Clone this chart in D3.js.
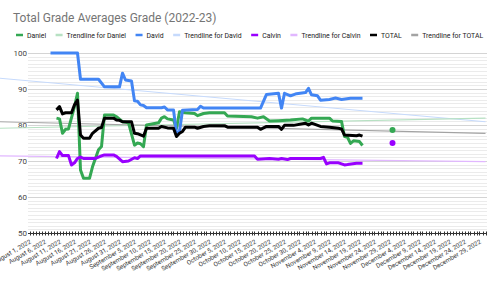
<!DOCTYPE html>
<html>
<head>
<meta charset="utf-8">
<script src="https://cdn.jsdelivr.net/npm/d3@7"></script>
<style>
    body { margin: 0; background: #fff; }
    text { font-family: Roboto, "Noto Sans", sans-serif; }
</style>
</head>
<body>
<div id="chart"></div>
<script>
// grades: [date, average]
var daniel = [
    ["2022-08-10", 81.9], ["2022-08-11", 81.7], ["2022-08-12", 77.7], ["2022-08-13", 78.8],
    ["2022-08-14", 78.9], ["2022-08-16", 85.1], ["2022-08-17", 88.8], ["2022-08-18", 67.5],
    ["2022-08-19", 65.2], ["2022-08-21", 65.2], ["2022-08-22", 68.4], ["2022-08-24", 73.1],
    ["2022-08-25", 74.0], ["2022-08-26", 82.8], ["2022-08-29", 82.8], ["2022-08-30", 82.3],
    ["2022-09-01", 80.9], ["2022-09-03", 80.6], ["2022-09-05", 74.4], ["2022-09-06", 75.0],
    ["2022-09-07", 74.8], ["2022-09-08", 74.0], ["2022-09-09", 80.0], ["2022-09-13", 80.6],
    ["2022-09-14", 81.9], ["2022-09-15", 82.3], ["2022-09-16", 81.7], ["2022-09-18", 81.4],
    ["2022-09-19", 79.1], ["2022-09-20", 83.7], ["2022-09-22", 83.4], ["2022-09-25", 83.2],
    ["2022-09-26", 82.6], ["2022-09-28", 83.2], ["2022-09-30", 83.4], ["2022-10-05", 83.4],
    ["2022-10-06", 82.5], ["2022-10-14", 82.3], ["2022-10-16", 81.9], ["2022-10-18", 82.3],
    ["2022-10-20", 81.1], ["2022-10-23", 81.2], ["2022-10-27", 81.4], ["2022-10-31", 81.7],
    ["2022-11-02", 81.1], ["2022-11-03", 81.9], ["2022-11-09", 81.9], ["2022-11-10", 81.1],
    ["2022-11-13", 81.0], ["2022-11-14", 76.8], ["2022-11-15", 76.6], ["2022-11-16", 74.9],
    ["2022-11-17", 75.6], ["2022-11-19", 75.4], ["2022-11-20", 74.3]
];
var david = [
    ["2022-08-08", 100], ["2022-08-17", 100], ["2022-08-18", 92.7], ["2022-08-24", 92.7],
    ["2022-08-26", 90.6], ["2022-08-31", 90.6], ["2022-09-01", 94.4], ["2022-09-02", 92.5],
    ["2022-09-04", 92.2], ["2022-09-05", 86.7], ["2022-09-06", 86.6], ["2022-09-07", 85.6],
    ["2022-09-08", 85.4], ["2022-09-09", 84.8], ["2022-09-14", 84.8], ["2022-09-15", 85.0],
    ["2022-09-16", 84.2], ["2022-09-18", 84.2], ["2022-09-19", 77.7], ["2022-09-20", 78.2],
    ["2022-09-21", 84.1], ["2022-09-26", 84.3], ["2022-09-27", 85.2], ["2022-09-28", 84.7],
    ["2022-10-17", 84.7], ["2022-10-19", 88.5], ["2022-10-23", 88.8], ["2022-10-24", 84.7],
    ["2022-10-25", 88.8], ["2022-10-27", 88.1], ["2022-10-29", 88.7], ["2022-11-01", 89.0],
    ["2022-11-02", 90.2], ["2022-11-03", 88.4], ["2022-11-05", 88.1], ["2022-11-06", 86.9],
    ["2022-11-09", 87.1], ["2022-11-11", 87.5], ["2022-11-13", 87.1], ["2022-11-16", 87.4],
    ["2022-11-20", 87.4]
];
var calvin = [
    ["2022-08-10", 70.7], ["2022-08-11", 72.6], ["2022-08-12", 71.5], ["2022-08-14", 71.5],
    ["2022-08-15", 68.9], ["2022-08-16", 69.5], ["2022-08-17", 70.7], ["2022-08-18", 71.1],
    ["2022-08-19", 70.7], ["2022-08-23", 70.7], ["2022-08-25", 71.4], ["2022-08-26", 71.7],
    ["2022-08-29", 71.7], ["2022-08-30", 71.3], ["2022-09-01", 69.8], ["2022-09-03", 70.0],
    ["2022-09-05", 70.9], ["2022-09-06", 70.7], ["2022-09-07", 71.4], ["2022-10-15", 71.4],
    ["2022-10-16", 70.5], ["2022-10-20", 70.7], ["2022-10-23", 70.5], ["2022-10-24", 70.7],
    ["2022-10-26", 70.4], ["2022-10-27", 70.7], ["2022-11-06", 70.7], ["2022-11-07", 71.0],
    ["2022-11-08", 69.2], ["2022-11-09", 69.5], ["2022-11-12", 69.5], ["2022-11-14", 68.9],
    ["2022-11-15", 69.0], ["2022-11-18", 69.4], ["2022-11-20", 69.4]
];
var total = [
    ["2022-08-10", 84.2], ["2022-08-11", 85.1], ["2022-08-12", 83.1], ["2022-08-13", 83.4],
    ["2022-08-15", 83.4], ["2022-08-16", 85.6], ["2022-08-17", 86.9], ["2022-08-18", 77.2],
    ["2022-08-19", 76.3], ["2022-08-21", 76.3], ["2022-08-22", 77.7], ["2022-08-24", 79.1],
    ["2022-08-25", 79.3], ["2022-08-26", 81.9], ["2022-08-29", 81.9], ["2022-08-30", 81.4],
    ["2022-08-31", 81.3], ["2022-09-01", 80.9], ["2022-09-04", 80.9], ["2022-09-05", 77.7],
    ["2022-09-06", 77.6], ["2022-09-08", 76.9], ["2022-09-09", 79.1], ["2022-09-13", 79.1],
    ["2022-09-14", 79.6], ["2022-09-16", 79.2], ["2022-09-18", 79.1], ["2022-09-19", 76.8],
    ["2022-09-20", 77.7], ["2022-09-21", 78.2], ["2022-09-22", 79.4], ["2022-09-25", 79.4],
    ["2022-09-26", 79.1], ["2022-09-28", 79.6], ["2022-09-30", 79.8], ["2022-10-05", 79.8],
    ["2022-10-06", 79.4], ["2022-10-16", 79.4], ["2022-10-17", 78.8], ["2022-10-19", 79.6],
    ["2022-10-23", 79.6], ["2022-10-24", 78.8], ["2022-10-25", 79.9], ["2022-10-28", 79.9],
    ["2022-11-01", 80.5], ["2022-11-02", 80.0], ["2022-11-03", 80.5], ["2022-11-06", 79.6],
    ["2022-11-09", 79.4], ["2022-11-12", 79.1], ["2022-11-13", 78.9], ["2022-11-14", 77.2],
    ["2022-11-18", 77.0], ["2022-11-19", 77.2], ["2022-11-20", 76.9]
];

// lone points after the gap
var danielLate = [["2022-11-30", 78.6]];
var calvinLate = [["2022-11-30", 75.0]];

// trendline ends, as drawn (they run past the left edge)
var trendDates = ["2022-07-22", "2022-12-31"];
var trendDaniel = [79.1, 81.9];
var trendDavid = [93.0, 80.9];
var trendCalvin = [71.4, 69.8];
var trendTotal = [80.9, 77.7];

var yTicks = [50, 60, 70, 80, 90, 100];
var legendNames = ["Daniel", "Trendline for Daniel", "David", "Trendline for David",
    "Calvin", "Trendline for Calvin", "TOTAL", "Trendline for TOTAL"];

var colors = {
    daniel: "#34a853", danielTrend: "#b7e1c3",
    david: "#4285f4", davidTrend: "#c6dafc",
    calvin: "#9900ff", calvinTrend: "#e1b7ff",
    total: "#000000", totalTrend: "#a3a3a3"
};

var width = 500, height = 285;
var plot = { left: 28, right: 487, top: 53, bottom: 233 };

var parseDate = d3.timeParse("%Y-%m-%d");
var fmt = d3.timeFormat("%B %-d, %Y");

// one slot per day, points in the middle of the slot
var x = d3.scaleTime()
    .domain([parseDate("2022-08-01"), parseDate("2022-12-31")])
    .range([plot.left + 1.5, plot.right - 1.5]);
var y = d3.scaleLinear().domain([50, 100]).range([plot.bottom, plot.top]);

var svg = d3.select("#chart").append("svg")
    .attr("width", width)
    .attr("height", height);

// title
svg.append("text")
    .attr("x", 13).attr("y", 22)
    .attr("font-size", 12)
    .attr("fill", "#757575")
    .text("Total Grade Averages Grade (2022-23)");

// gridlines, minor every 1 and major every 10
var minor = d3.range(51, 100).filter(function (v) { return v % 10 !== 0; });
svg.append("g").selectAll("line").data(minor).join("line")
    .attr("x1", plot.left).attr("x2", plot.right)
    .attr("y1", function (d) { return Math.round(y(d)) + 0.5; })
    .attr("y2", function (d) { return Math.round(y(d)) + 0.5; })
    .attr("stroke", "#ebebeb").attr("stroke-width", 1);
svg.append("g").selectAll("line").data(yTicks.slice(1)).join("line")
    .attr("x1", plot.left).attr("x2", plot.right)
    .attr("y1", function (d) { return Math.round(y(d)) + 0.5; })
    .attr("y2", function (d) { return Math.round(y(d)) + 0.5; })
    .attr("stroke", "#d4d4d4").attr("stroke-width", 1);

// y labels
svg.append("g").selectAll("text").data(yTicks).join("text")
    .attr("x", 27)
    .attr("y", function (d) { return y(d); })
    .attr("dy", "0.35em")
    .attr("text-anchor", "end")
    .attr("font-size", 8)
    .attr("fill", "#444")
    .text(function (d) { return d; });

// x axis: a tick every day, a label every 5 days
var days = d3.timeDay.range(x.domain()[0], d3.timeDay.offset(x.domain()[1], 1));
var xAxis = svg.append("g").attr("transform", "translate(0," + (plot.bottom + 0.5) + ")");
xAxis.append("line")
    .attr("x1", plot.left).attr("x2", plot.right)
    .attr("stroke", "#333");
xAxis.selectAll("line.tick").data(days).join("line")
    .attr("class", "tick")
    .attr("x1", function (d) { return Math.round(x(d)) + 0.5; })
    .attr("x2", function (d) { return Math.round(x(d)) + 0.5; })
    .attr("y1", -2).attr("y2", 2)
    .attr("stroke", "#333");

var labelDays = d3.timeDay.range(x.domain()[0], x.domain()[1], 5);
svg.append("g").selectAll("text").data(labelDays).join("text")
    .attr("transform", function (d) {
        return "translate(" + (x(d) + 2) + "," + (plot.bottom + 10) + ") rotate(-30)";
    })
    .attr("text-anchor", "end")
    .attr("font-size", 6.3)
    .attr("fill", "#333")
    .text(function (d) { return fmt(d); });

// trendlines
var line = d3.line()
    .x(function (d) { return x(parseDate(d[0])); })
    .y(function (d) { return y(d[1]); });

function trend(vals) {
    return trendDates.map(function (d, i) { return [d, vals[i]]; });
}
[[trendDavid, colors.davidTrend], [trendDaniel, colors.danielTrend],
 [trendTotal, colors.totalTrend], [trendCalvin, colors.calvinTrend]].forEach(function (t) {
    svg.append("path")
        .datum(trend(t[0]))
        .attr("d", line)
        .attr("fill", "none")
        .attr("stroke", t[1])
        .attr("stroke-width", 1.2);
});

// series lines
[[daniel, colors.daniel], [david, colors.david], [calvin, colors.calvin], [total, colors.total]]
    .forEach(function (s) {
        svg.append("path")
            .datum(s[0])
            .attr("d", line)
            .attr("fill", "none")
            .attr("stroke", s[1])
            .attr("stroke-width", 3)
            .attr("stroke-linejoin", "round");
    });

// isolated points
[[danielLate, colors.daniel], [calvinLate, colors.calvin]].forEach(function (s) {
    svg.append("g").selectAll("circle").data(s[0]).join("circle")
        .attr("cx", function (d) { return x(parseDate(d[0])); })
        .attr("cy", function (d) { return y(d[1]); })
        .attr("r", 3)
        .attr("fill", s[1]);
});

// legend
var legendColors = [colors.daniel, colors.danielTrend, colors.david, colors.davidTrend,
    colors.calvin, colors.calvinTrend, colors.total, colors.totalTrend];
var lx = 16;
legendNames.forEach(function (name, i) {
    var g = svg.append("g").attr("transform", "translate(" + lx + ",35)");
    g.append("line")
        .attr("x1", 0).attr("x2", 7)
        .attr("stroke", legendColors[i])
        .attr("stroke-width", 2.5);
    var t = g.append("text")
        .attr("x", 11).attr("y", 2.5)
        .attr("font-size", 6.9)
        .attr("fill", "#222")
        .text(name);
    lx += 11 + t.node().getComputedTextLength() + 9.5;
});
</script>
</body>
</html>
